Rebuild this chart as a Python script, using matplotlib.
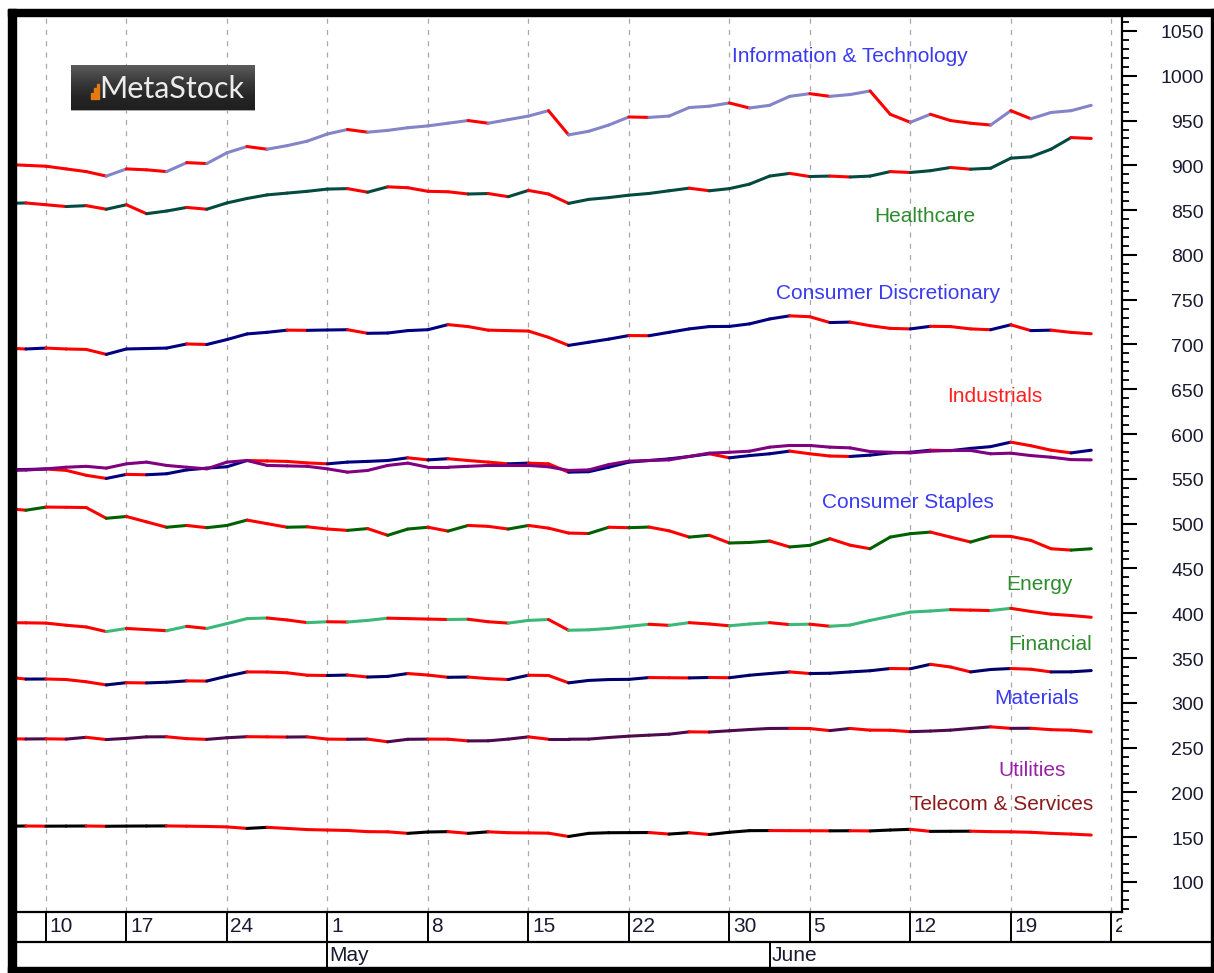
import numpy as np
import pandas as pd
import matplotlib
matplotlib.use("Agg")
import matplotlib.pyplot as plt
from matplotlib.collections import LineCollection
from matplotlib.patches import Rectangle
import matplotlib.transforms as mtransforms
from matplotlib.ticker import MultipleLocator
from matplotlib.colors import LinearSegmentedColormap

# ---------------- data ----------------
holidays = ["2017-04-14", "2017-05-29"]
dates = pd.bdate_range("2017-04-06", "2017-06-23", freq="C", holidays=holidays)

week_ticks = ["2017-04-10", "2017-04-17", "2017-04-24", "2017-05-01", "2017-05-08",
              "2017-05-15", "2017-05-22", "2017-05-30", "2017-06-05", "2017-06-12",
              "2017-06-19", "2017-06-26"]
week_labels = ["10", "17", "24", "1", "8", "15", "22", "30", "5", "12", "19", "26"]
month_starts = ["2017-05-01", "2017-06-01"]
month_labels = ["May", "June"]

info_tech = [901, 900, 899, 896, 893, 888, 896, 895, 893, 903, 902, 914, 921, 918, 922,
             927, 935, 940, 937, 939, 942, 944, 947, 950, 947, 951, 955, 961, 934, 938,
             945, 954, 953.5, 955, 964.5, 966, 969.6, 964, 967, 977, 980, 977, 979, 983,
             957, 948, 957, 950, 947, 945, 961, 952, 959, 961, 967]
healthcare = [857.5, 858, 856, 854, 855, 851, 856, 846, 849, 853, 851, 858, 863, 867, 869,
              871, 873.5, 874, 870, 876, 875, 871, 870.5, 868, 868.5, 865, 872, 868, 857.5,
              862, 864, 866.7, 868.6, 871.6, 874.5, 871.6, 874, 879, 888, 891, 887.5, 888,
              887, 888, 893, 892, 894, 897.6, 895.7, 896.8, 908, 909.5, 918, 931, 930]
cons_discr = [696, 695, 696, 695, 694.5, 689, 695, 695.5, 696, 700.6, 700, 705.5, 711.8,
              713.6, 716, 715.8, 716.2, 716.5, 712.5, 712.8, 715.5, 716.5, 722.2, 720, 716,
              715.5, 715, 708, 699, 702.5, 706, 710, 709.8, 713.6, 717.4, 720, 720.2, 723,
              728.5, 732, 731, 724.5, 725, 721, 718, 717.4, 720.3, 720, 717.4, 716.5, 722,
              715.5, 716, 713.5, 712]
industrials = [560, 560.5, 561, 559.5, 554, 550.5, 555, 554.6, 555.7, 560, 562, 563.5,
               570.5, 570, 569.5, 567.8, 566.8, 568.7, 569.5, 570.5, 573.5, 571.2, 572.5,
               570.5, 568.7, 566.8, 567.6, 566.8, 557.5, 558, 563, 568.7, 570.5, 572.3, 575,
               578, 573.5, 576, 578, 581, 578, 575.5, 575, 576.5, 579, 579.7, 582, 581.5,
               584, 586, 591, 587, 582, 579, 582]
cons_staples = [559.4, 559.8, 561.2, 563, 564, 562, 566.8, 568.7, 565, 563, 561.2, 568.7,
                570.5, 565, 564.5, 564, 561.2, 557.5, 559.4, 565, 567.6, 563, 563, 564,
                565, 565, 565, 563.5, 559.4, 560, 566, 569.8, 570.5, 571.2, 575, 578.7,
                579.7, 580.9, 585.4, 587.3, 587.3, 585.4, 584.6, 580.5, 579.7, 579, 580.9,
                581.7, 581.7, 578, 578.7, 576, 574.2, 571.5, 571.2]
energy = [517, 515, 518.5, 518.3, 518, 506, 508, 502, 496, 498, 495.5, 498, 504, 500, 496,
          496.5, 494, 492.5, 494.5, 487, 494, 496, 491.7, 498, 497, 494, 498, 495, 489.5,
          489, 496, 495.5, 496.2, 492, 485, 487, 478.4, 479, 480.6, 474, 475.8, 483.2, 476,
          472, 485, 488.8, 490.6, 485, 479.5, 486, 485.8, 481.3, 472, 470.5, 472]
financial = [389.5, 389.3, 389, 386.6, 384.7, 379.5, 383, 381.8, 380.5, 385.4, 383, 388.4,
             394, 394.7, 392.5, 389.5, 390.5, 390.2, 392, 394.5, 394, 393.5, 393, 393.3,
             390.5, 389, 392, 393, 381, 381.5, 383, 385.4, 387.7, 386.5, 389.5, 388, 386,
             388, 389.5, 387.3, 387.8, 385.5, 386.8, 392, 396.6, 401.3, 402.5, 404, 403.5,
             403, 405.5, 402, 399, 397.5, 395.5]
materials = [329, 326.5, 326.6, 326, 323.5, 320, 322.5, 322.2, 323, 324.5, 324.3, 329.7,
             334.5, 334.4, 333.5, 330.8, 330.5, 331, 328.8, 329.5, 332.7, 331, 328.5, 328.8,
             327, 326, 330.8, 330.5, 322.3, 325, 326, 326.2, 328.2, 328, 327.8, 328.3, 328,
             330.8, 332.7, 334.5, 332.7, 333, 334.5, 335.8, 338.3, 338, 343, 340, 334.5,
             337.2, 338.3, 337.5, 334.5, 334.6, 336]
utilities = [260, 259.6, 259.8, 259.5, 261.5, 259, 260.3, 262, 262.1, 260, 259.2, 261,
             262.2, 262, 261.8, 262, 259.5, 259.3, 259.5, 256.5, 259.3, 259.5, 259.4, 257.5,
             257.6, 259.5, 262, 259.4, 259.4, 259.5, 261.3, 262.8, 263.9, 265, 267.6, 267.4,
             268.8, 270.2, 271.4, 271.5, 271.3, 269, 271.4, 269.5, 269.4, 267.8, 268.5,
             269.5, 271.4, 273.2, 271.5, 271.6, 270, 269.5, 267.6]
telecom = [162.3, 162.5, 162.3, 162.4, 162.5, 162.2, 162.4, 162.5, 162.6, 162.3, 162, 161.5,
           159.8, 161, 159.8, 158.5, 158, 157.5, 156.2, 156, 154.3, 155.8, 156.2, 154.3, 156,
           155, 154.8, 154.5, 150.8, 154.3, 155, 155.1, 155.2, 153.5, 155, 153, 155.5, 157.3,
           157.4, 157.3, 157.2, 157.1, 157.2, 157, 158, 158.8, 156.5, 156.6, 156.7, 156.2,
           156, 155.5, 154.3, 153.5, 152.4]

series_names = ["Information & Technology", "Healthcare", "Consumer Discretionary",
                "Industrials", "Consumer Staples", "Energy", "Financial", "Materials",
                "Utilities", "Telecom & Services"]

# ---------------- style ----------------
W, H, DPI = 1214, 973, 100
DOWN = "#ff0000"
series = [
    (info_tech, "#8484c8", True),
    (healthcare, "#044a40", True),
    (cons_discr, "#000080", True),
    (industrials, "#000080", True),
    (cons_staples, "#800080", False),
    (energy, "#006000", True),
    (financial, "#3cb878", True),
    (materials, "#00006a", True),
    (utilities, "#4d0a4d", True),
    (telecom, "#000000", True),
]
# label: (center x px, center y px, colour)
label_style = [
    (850, 57, "#3a3af0"), (925, 216, "#2e8b2e"), (888, 293, "#3a3af0"),
    (995, 397, "#ff2020"), (908, 503, "#3a3af0"), (1039, 585, "#2e8b2e"),
    (1050, 645, "#2e8b2e"), (1037, 698, "#3a3af0"), (1032, 770, "#9a20a8"),
    (1002, 804, "#8b1a1a"),
]
FONT = "Liberation Sans"
TXT = "#1a1a30"

def fx(px):
    return px / W

def fy(py):
    return 1 - py / H

fig = plt.figure(figsize=(W / DPI, H / DPI), dpi=DPI)
fig.patch.set_facecolor("white")

X0, X1, Y0, Y1 = 16, 1122, 16, 912
PX_PER_DAY = 20.1
X_FIRST = 5.8  # pixel of first trading day
xlim = ((X0 - X_FIRST) / PX_PER_DAY, (X1 - X_FIRST) / PX_PER_DAY)

ax = fig.add_axes([fx(X0), fy(Y1), fx(X1) - fx(X0), fy(Y0) - fy(Y1)])
ax.set_xlim(*xlim)
ax.set_ylim(66.5, 1066.7)

week_pos = [int(np.busday_count(dates[0].date(), np.datetime64(d), holidays=holidays)) for d in week_ticks]
month_pos = [int(np.busday_count(dates[0].date(), np.datetime64(d), holidays=holidays)) for d in month_starts]

# vertical dashed grid
for p in week_pos:
    ax.axvline(p, color="#a8a8a8", lw=0.9, ls=(0, (4, 5)), zorder=1)

for vals, col, updown in series:
    y = np.asarray(vals, dtype=float)
    x = np.arange(len(y))
    pts = np.column_stack([x, y])
    segs = np.stack([pts[:-1], pts[1:]], axis=1)
    cols = [DOWN if (updown and y[i + 1] < y[i]) else col for i in range(len(y) - 1)]
    lc = LineCollection(segs, colors=cols, linewidths=2.2, capstyle="round",
                        joinstyle="round", zorder=3)
    ax.add_collection(lc)

for name, (cx, cy, c) in zip(series_names, label_style):
    fig.text(fx(cx), fy(cy), name, color=c, fontsize=15, family=FONT,
             ha="center", va="center")

# right axis ticks
ax.yaxis.tick_right()
ax.yaxis.set_major_locator(MultipleLocator(50))
ax.yaxis.set_minor_locator(MultipleLocator(10))
ax.tick_params(axis="y", which="major", length=11, width=1.5, color="black",
               direction="out", labelright=False, labelleft=False)
ax.tick_params(axis="y", which="minor", length=5, width=1.3, color="black",
               direction="out")
ax.set_xticks([])
for s in ["left", "top", "bottom"]:
    ax.spines[s].set_visible(False)
ax.spines["right"].set_linewidth(1.6)
ax.spines["right"].set_color("black")

ytrans = mtransforms.blended_transform_factory(fig.transFigure, ax.transData) + \
    mtransforms.ScaledTranslation(0, -0.03, fig.dpi_scale_trans)
for v in range(100, 1051, 50):
    fig.text(fx(1204), v, str(v), transform=ytrans, ha="right", va="center",
             fontsize=14, family=FONT, color=TXT)

# date row
ax2 = fig.add_axes([fx(X0), fy(942), fx(X1) - fx(X0), fy(912) - fy(942)])
ax2.set_xlim(*xlim)
ax2.set_ylim(0, 1)
ax2.axis("off")
ax2.axhline(1, color="black", lw=1.6, clip_on=False)
dtrans = ax2.transData + mtransforms.ScaledTranslation(0.035, 0, fig.dpi_scale_trans)
for p, lab in zip(week_pos, week_labels):
    ax2.axvline(p, color="black", lw=1.4)
    ax2.text(p, 0.5, lab, transform=dtrans, ha="left", va="center", fontsize=15,
             family=FONT, color=TXT, clip_on=True)

# month row
MX1 = 1212
ax3 = fig.add_axes([fx(X0), fy(967), fx(MX1) - fx(X0), fy(942) - fy(967)])
ax3.set_xlim(xlim[0], (MX1 - X_FIRST) / PX_PER_DAY)
ax3.set_ylim(0, 1)
ax3.axis("off")
ax3.axhline(1, color="black", lw=1.6, clip_on=False)
mtrans = ax3.transData + mtransforms.ScaledTranslation(0.02, 0, fig.dpi_scale_trans)
for p, lab in zip(month_pos, month_labels):
    ax3.axvline(p, color="black", lw=1.4)
    ax3.text(p, 0.45, lab, transform=mtrans, ha="left", va="center", fontsize=15,
             family=FONT, color=TXT)

# outer frame
def prect(x0, y0, x1, y1, color="black"):
    fig.patches.append(Rectangle((fx(x0), fy(y1)), fx(x1) - fx(x0), fy(y0) - fy(y1),
                                 transform=fig.transFigure, color=color, zorder=10))

prect(8, 9, 16, 973)
prect(8, 9, 1214, 16)
prect(1211, 9, 1214, 973)
prect(8, 967, 1214, 973)

# logo
lax = fig.add_axes([fx(71), fy(111), fx(255) - fx(71), fy(65) - fy(111)])
grad = np.linspace(0, 1, 50).reshape(-1, 1)
cmap = LinearSegmentedColormap.from_list("g", ["#5c5c5c", "#3c3c3c", "#262626", "#1e1e1e"])
lax.imshow(grad, aspect="auto", cmap=cmap, extent=[0, 1, 0, 1], origin="upper")
lax.set_xlim(0, 1)
lax.set_ylim(0, 1)
lax.axis("off")
lax.axhline(0.01, color="#c8c8c8", lw=1.2)
lax.text(0.155, 0.47, "MetaStock", color="#ececec", fontsize=22, family="Lato",
         ha="left", va="center")
for i, h in enumerate([0.13, 0.22, 0.32]):
    lax.add_patch(Rectangle((0.11 + i * 0.016, 0.27), 0.011, h, color="#e47a12"))

fig.savefig("out.png", dpi=DPI)
